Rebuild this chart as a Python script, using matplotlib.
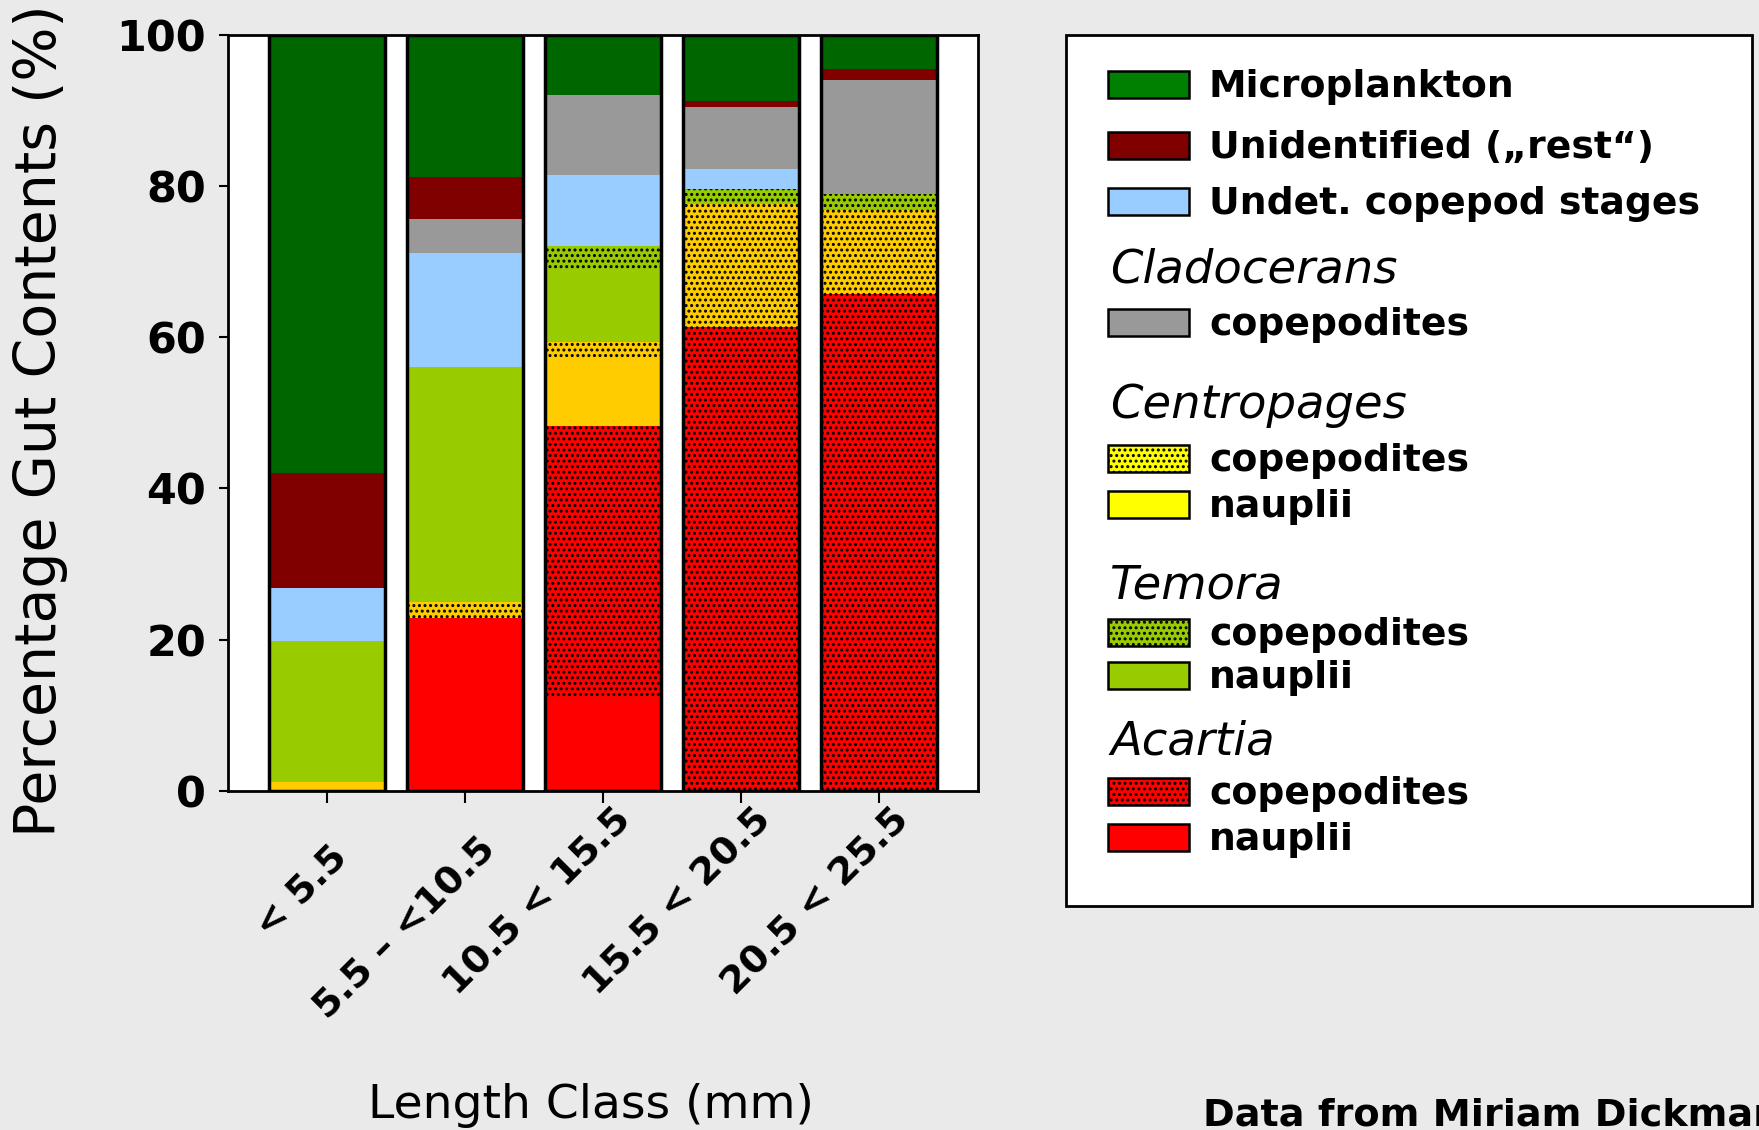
import matplotlib
matplotlib.use("Agg")
import matplotlib.pyplot as plt
from matplotlib.patches import Rectangle
from matplotlib.transforms import ScaledTranslation
import numpy as np

plt.rcParams['font.family'] = ['DejaVu Sans']
plt.rcParams['hatch.linewidth'] = 1.4
plt.rcParams['hatch.color'] = 'black'

# ---- data ----
categories = ["< 5.5", "5.5 \u2013 <10.5", "10.5 < 15.5", "15.5 < 20.5", "20.5 < 25.5"]
acartia_naup   = [0.0, 22.9, 12.6, 0.0, 0.0]
acartia_cop    = [0.0, 0.0, 35.7, 61.3, 65.7]
centro_naup    = [1.2, 0.0, 8.8, 0.0, 0.0]
centro_cop     = [0.0, 2.1, 2.3, 16.3, 11.2]
temora_naup    = [18.6, 31.1, 9.5, 0.0, 0.0]
temora_cop     = [0.0, 0.0, 3.2, 2.0, 2.0]
undet_cop      = [7.0, 15.0, 9.4, 2.7, 0.0]
clado_cop      = [0.0, 4.6, 10.6, 8.1, 15.1]
unidentified   = [15.3, 5.5, 0.0, 0.8, 1.5]
microplankton  = [57.9, 18.8, 7.9, 8.8, 4.5]
yticks = [0, 20, 40, 60, 80, 100]

layers = [
    (acartia_naup, '#FF0000', None),
    (acartia_cop, '#FF0000', '...'),
    (centro_naup, '#FFCC00', None),
    (centro_cop, '#FFCC00', '...'),
    (temora_naup, '#99CC00', None),
    (temora_cop, '#99CC00', '...'),
    (undet_cop, '#99CCFF', None),
    (clado_cop, '#999999', None),
    (unidentified, '#800000', None),
    (microplankton, '#006600', None),
]

W, H = 1759, 1130
fig = plt.figure(figsize=(W / 100, H / 100), dpi=100, facecolor='#EAEAEA')
ax = fig.add_axes([0.1295, 0.3001, 0.4266, 0.669])
ax.set_facecolor('white')

x = np.arange(len(categories))
bw = 0.84
bottom = np.zeros(len(categories))
for vals, col, hatch in layers:
    v = np.array(vals)
    ax.bar(x, v, bw, bottom=bottom, color=col, edgecolor='black', linewidth=0,
           hatch=hatch, zorder=2)
    bottom += v
ax.bar(x, bottom, bw, fill=False, edgecolor='black', linewidth=2.5, zorder=3)

ax.set_xlim(-0.715, len(categories) - 1 + 0.715)
ax.set_ylim(0, 100)
ax.set_yticks(yticks)
ax.set_yticklabels([str(t) for t in yticks], fontsize=31, fontweight='bold')
ax.set_xticks(x)
ax.set_xticklabels(categories, fontsize=27.5, fontweight='bold', rotation=45,
                   ha='right', va='top', rotation_mode='anchor')
ax.tick_params(axis='y', length=6.5, width=1.5, pad=9)
ax.tick_params(axis='x', length=8.5, width=1.5, pad=10)
for s in ax.spines.values():
    s.set_linewidth(2)

# nudge rotated tick labels so their boxes end where the reference's do
# (pixel targets: right edge, top edge, from the figure's top-left)
label_right = [354, 503, 638, 778, 916]
label_top = [839, 831, 802, 802, 802]
fig.canvas.draw()
r = fig.canvas.get_renderer()
for lbl, xr, yt in zip(ax.get_xticklabels(), label_right, label_top):
    bb = lbl.get_window_extent(r)
    dx = xr - bb.x1
    dy = (H - yt) - bb.y1
    lbl.set_transform(lbl.get_transform() +
                      ScaledTranslation(dx / 100, dy / 100, fig.dpi_scale_trans))

# ---- overlay (pixel coordinates) ----
ov = fig.add_axes([0, 0, 1, 1], zorder=5)
ov.set_xlim(0, W)
ov.set_ylim(H, 0)
ov.axis('off')
ov.patch.set_visible(False)

ov.text(41, 421, "Percentage Gut Contents (%)", rotation=90, ha='center', va='center',
        fontsize=41)
ov.text(591, 1118, "Length Class (mm)", ha='center', va='baseline', fontsize=34)
ov.text(1203, 1125, "Data from Miriam Dickmann", ha='left', va='baseline',
        fontsize=27.5, fontweight='bold')

# legend box
ov.add_patch(Rectangle((1066, 35), 686, 871, facecolor='white', edgecolor='black',
                       linewidth=2))

legend_items = [
    ('patch', 84, "Microplankton", '#008000', None),
    ('patch', 145, "Unidentified (\u201erest\u201c)", '#800000', None),
    ('patch', 201, "Undet. copepod stages", '#99CCFF', None),
    ('head', 268, "Cladocerans", None, None),
    ('patch', 322, "copepodites", '#999999', None),
    ('head', 404, "Centropages", None, None),
    ('patch', 458, "copepodites", '#FFFF00', '...'),
    ('patch', 504, "nauplii", '#FFFF00', None),
    ('head', 584, "Temora", None, None),
    ('patch', 632, "copepodites", '#99CC00', '...'),
    ('patch', 675, "nauplii", '#99CC00', None),
    ('head', 740, "Acartia", None, None),
    ('patch', 791, "copepodites", '#FF0000', '...'),
    ('patch', 837, "nauplii", '#FF0000', None),
]
for kind, yc, label, col, hatch in legend_items:
    if kind == 'head':
        ov.text(1110, yc + 2, label, ha='left', va='center', fontsize=33.5,
                style='italic')
    else:
        ov.add_patch(Rectangle((1108, yc - 13.5), 81, 27, facecolor=col,
                               edgecolor='black', linewidth=1.8, hatch=hatch))
        ov.text(1209, yc + 3, label, ha='left', va='center', fontsize=27.2,
                fontweight='bold')

fig.savefig("out.png", dpi=100, facecolor=fig.get_facecolor())
